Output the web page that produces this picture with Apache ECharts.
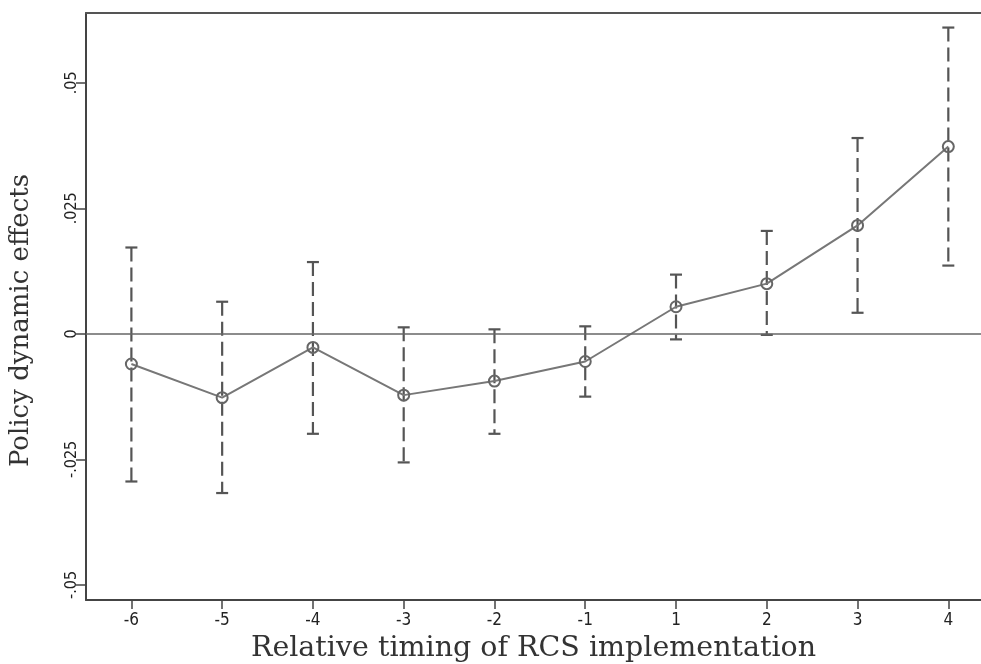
<!DOCTYPE html>
<html>
<head>
<meta charset="utf-8">
<script src="https://cdn.jsdelivr.net/npm/echarts@6/dist/echarts.min.js"></script>
<style>
html, body { margin: 0; padding: 0; background: #fff; }
#container { width: 981px; height: 664px; }
</style>
</head>
<body>
<div id="container"></div>
<script>
// relative timing categories
var categories = ['-6', '-5', '-4', '-3', '-2', '-1', '1', '2', '3', '4'];
// point estimates and confidence bounds
var estimates = [-0.0060, -0.0127, -0.0027, -0.0122, -0.0094, -0.0055, 0.0054, 0.0100, 0.0216, 0.0373];
var upper = [0.0172, 0.0064, 0.0143, 0.0013, 0.0009, 0.0015, 0.0118, 0.0205, 0.0390, 0.0610];
var lower = [-0.0294, -0.0317, -0.0199, -0.0256, -0.0199, -0.0125, -0.0011, -0.0002, 0.0042, 0.0136];
var yTicks = [-0.05, -0.025, 0, 0.025, 0.05];
var yTickLabels = ['-.05', '-.025', '0', '.025', '.05'];

var idx = categories.map(function(c, i) { return i; });
var lineData = estimates.map(function(v, i) { return [i, v]; });
var barData = estimates.map(function(v, i) { return [i, lower[i], upper[i]]; });

var myChart = echarts.init(document.getElementById('container'));

var tickFont = "'Liberation Sans Narrow', 'DejaVu Sans Condensed', 'Liberation Sans', sans-serif";
var titleFont = "'DejaVu Serif', 'Liberation Serif', serif";

var option = {
	backgroundColor: '#fff',
	animation: false,
	grid: { left: 86, right: 0, top: 13, bottom: 64, outerBoundsMode: 'none', containLabel: false },
	xAxis: [{
		type: 'value',
		min: -0.5,
		max: 9.36,
		splitLine: { show: false },
		axisLine: { show: true, onZero: false, lineStyle: { color: '#444', width: 2 } },
		axisTick: { show: true, length: 9, customValues: idx, lineStyle: { color: '#444', width: 1.5 } },
		axisLabel: {
			customValues: idx,
			margin: 12,
			color: '#222',
			fontSize: 17,
			fontFamily: tickFont,
			formatter: function(v) { return categories[Math.round(v)]; }
		},
		name: 'Relative timing of RCS implementation',
		nameLocation: 'middle',
		nameGap: 29,
		nameTextStyle: { fontSize: 28.5, fontFamily: titleFont, color: '#333' }
	}, {
		type: 'value',
		position: 'top',
		min: -0.5,
		max: 9.36,
		splitLine: { show: false },
		axisLine: { show: true, onZero: false, lineStyle: { color: '#555', width: 2 } },
		axisTick: { show: false },
		axisLabel: { show: false }
	}],
	yAxis: {
		type: 'value',
		min: -0.0530,
		max: 0.0639,
		splitLine: { show: false },
		axisLine: { show: true, onZero: false, lineStyle: { color: '#444', width: 2 } },
		axisTick: { show: true, length: 10, customValues: yTicks, lineStyle: { color: '#444', width: 1.5 } },
		axisLabel: {
			customValues: yTicks,
			rotate: 90,
			margin: 6,
			color: '#222',
			fontSize: 16,
			fontFamily: tickFont,
			formatter: function(v) {
				var k = yTicks.indexOf(v);
				return k >= 0 ? yTickLabels[k] : '';
			}
		},
		name: 'Policy dynamic effects',
		nameLocation: 'middle',
		nameRotate: 90,
		nameGap: 52,
		nameTextStyle: { fontSize: 26, fontFamily: titleFont, color: '#333', padding: [0, 28, 0, 0] }
	},
	series: [{
		type: 'custom',
		xAxisIndex: 0,
		z: 2,
		data: barData,
		renderItem: function(params, api) {
			var x = api.value(0);
			var top = api.coord([x, api.value(2)]);
			var bot = api.coord([x, api.value(1)]);
			var st = { stroke: '#555', lineWidth: 2.2 };
			return {
				type: 'group',
				children: [{
					type: 'line',
					shape: { x1: top[0], y1: top[1], x2: bot[0], y2: bot[1] },
					style: { stroke: '#555', lineWidth: 2.2, lineDash: [14, 6] }
				}, {
					type: 'line',
					shape: { x1: top[0] - 6, y1: top[1], x2: top[0] + 6, y2: top[1] },
					style: st
				}, {
					type: 'line',
					shape: { x1: bot[0] - 6, y1: bot[1], x2: bot[0] + 6, y2: bot[1] },
					style: st
				}]
			};
		}
	}, {
		type: 'line',
		xAxisIndex: 0,
		z: 3,
		data: lineData,
		symbol: 'circle',
		symbolSize: 11,
		showSymbol: true,
		lineStyle: { color: '#777', width: 2 },
		itemStyle: { color: 'rgba(255,255,255,0)', borderColor: '#666', borderWidth: 2 },
		markLine: {
			silent: true,
			symbol: 'none',
			label: { show: false },
			lineStyle: { color: '#666', width: 1.5, type: 'solid' },
			data: [{ yAxis: 0 }]
		}
	}]
};

if (option && typeof option === 'object') {
	myChart.setOption(option, true);
}
</script>
</body>
</html>
